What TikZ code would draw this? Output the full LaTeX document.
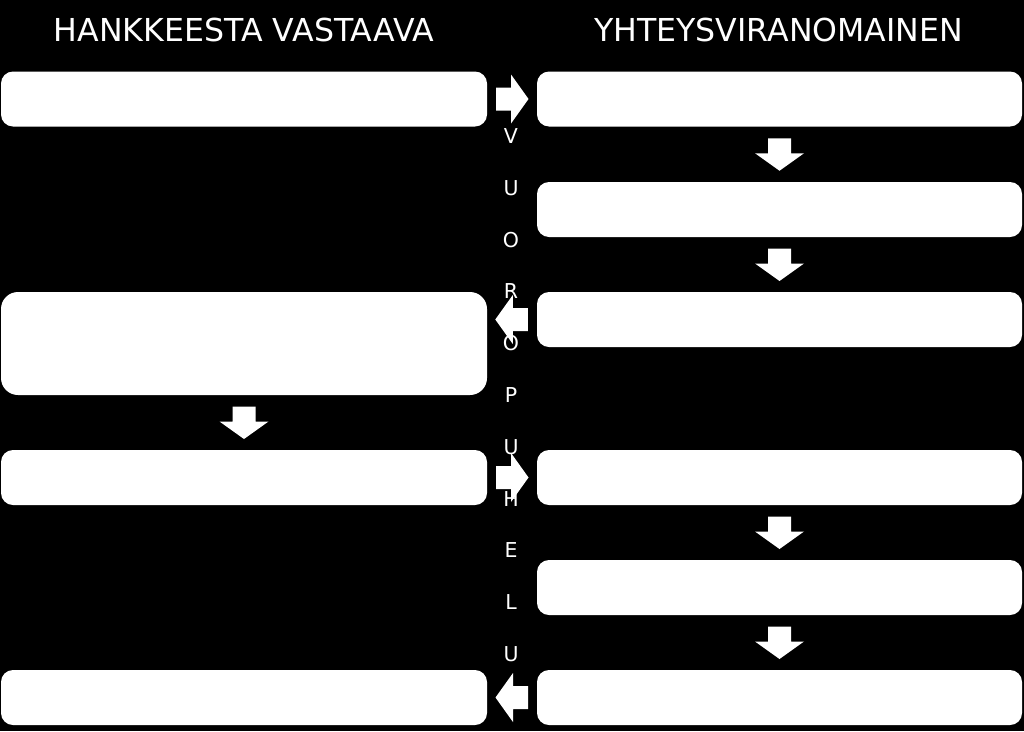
\documentclass[tikz,border=0pt]{standalone}
\usepackage{fontspec}
\setmainfont{DejaVu Sans}
\usetikzlibrary{calc}
\tikzset{
  box/.style={fill=white, draw=none, rounded corners=12pt, inner sep=0pt, minimum width=486pt, minimum height=55pt},
  bigbox/.style={box, rounded corners=17pt, minimum height=103pt},
  titletext/.style={text=white, font=\fontsize{31.6}{36}\selectfont, anchor=base, inner sep=0pt},
  vletter/.style={text=white, font=\fontsize{20.5}{24}\selectfont, inner sep=0pt},
  blockarrow/.pic={\fill[white] (-16,-11.5) -- (-1,-11.5) -- (-1,-24.5) -- (16.5,0) -- (-1,24.5) -- (-1,11.5) -- (-16,11.5) -- cycle;}
}
\begin{document}
\begin{tikzpicture}[x=1pt,y=-1pt]
\fill[black] (0,0) rectangle (1024,731);
\useasboundingbox (0,0) rectangle (1024,731);
% titles
\node[titletext] (tl) at (244,41) {HANKKEESTA VASTAAVA};
\node[titletext] (tr) at (778.5,41) {YHTEYSVIRANOMAINEN};
% vertical letters
\foreach \ch [count=\i from 0] in {V,U,O,R,O,P,U,H,E,L,U}
  \node[vletter] (v\i) at (511,{136+51.8*\i}) {\ch};
% left boxes
\node[box] (l1) at (244,99) {};
\node[bigbox] (l3) at (244,343.5) {};
\node[box] (l4) at (244,477.5) {};
\node[box] (l6) at (244,697.5) {};
% right boxes
\node[box, minimum width=485pt] (r1) at (779.5,99) {};
\node[box, minimum width=485pt] (r2) at (779.5,209.5) {};
\node[box, minimum width=485pt] (r3) at (779.5,319.5) {};
\node[box, minimum width=485pt] (r4) at (779.5,477.5) {};
\node[box, minimum width=485pt] (r5) at (779.5,587.5) {};
\node[box, minimum width=485pt] (r6) at (779.5,697.5) {};
% horizontal arrows
\pic at ($(l1.east)!0.5!(r1.west)$) {blockarrow};
\pic[rotate=180] at ($(r3.west)+(-25,0)$) {blockarrow};
\pic at ($(l4.east)!0.5!(r4.west)$) {blockarrow};
\pic[rotate=180] at ($(r6.west)!0.5!(l6.east)$) {blockarrow};
% vertical arrows
\pic[rotate=-90] at ($(r1.south)!0.5!(r2.north)$) {blockarrow};
\pic[rotate=-90] at ($(r2.south)!0.5!(r3.north)$) {blockarrow};
\pic[rotate=-90] at ($(l3.south)!0.5!(l4.north)$) {blockarrow};
\pic[rotate=-90] at ($(r4.south)!0.5!(r5.north)$) {blockarrow};
\pic[rotate=-90] at ($(r5.south)!0.5!(r6.north)$) {blockarrow};
\end{tikzpicture}
\end{document}
